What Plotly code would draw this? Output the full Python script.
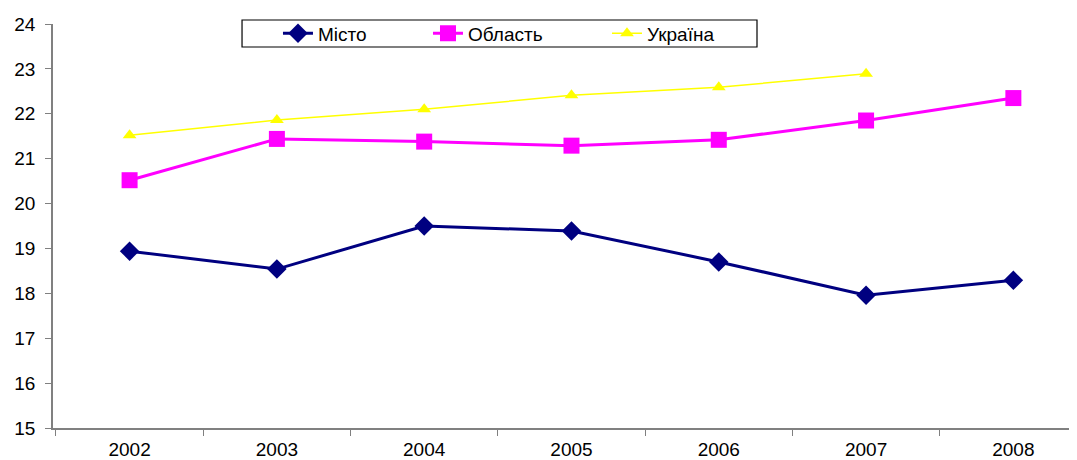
import plotly.graph_objects as go

years = ["2002", "2003", "2004", "2005", "2006", "2007", "2008"]
misto = [18.94, 18.54, 19.50, 19.39, 18.70, 17.96, 18.29]
oblast = [20.52, 21.44, 21.38, 21.29, 21.42, 21.85, 22.35]
ukraina = [21.52, 21.86, 22.10, 22.41, 22.59, 22.89, None]

fig = go.Figure()
fig.add_trace(go.Scatter(x=years, y=misto, name="Місто", mode="lines+markers",
                         line=dict(color="#000080", width=3),
                         marker=dict(symbol="diamond", size=15, color="#000080"),
                         legend="legend"))
fig.add_trace(go.Scatter(x=years, y=oblast, name="Область", mode="lines+markers",
                         line=dict(color="#FF00FF", width=3),
                         marker=dict(symbol="square", size=16, color="#FF00FF"),
                         legend="legend2"))
fig.add_trace(go.Scatter(x=years, y=ukraina, name="Україна", mode="lines+markers",
                         line=dict(color="#FFFF00", width=1.5),
                         marker=dict(symbol="triangle-up", size=12, color="#FFFF00"),
                         legend="legend3"))

leg_common = dict(orientation="h", y=0.9765, xanchor="left", yanchor="middle",
                  borderwidth=0, bgcolor="rgba(0,0,0,0)", font=dict(size=19))

fig.update_layout(
    width=1069, height=452,
    margin=dict(l=45, r=0, t=16, b=32, autoexpand=False),
    paper_bgcolor="white", plot_bgcolor="white",
    font=dict(family="Liberation Sans, Arial, sans-serif", size=19, color="black"),
    showlegend=True,
    legend=dict(x=0.2197, **leg_common),
    legend2=dict(x=0.3662, **leg_common),
    legend3=dict(x=0.5410, **leg_common),
    shapes=[dict(type="rect", xref="paper", yref="paper",
                 x0=0.1846, x1=0.6875, y0=0.9431, y1=1.0099,
                 line=dict(color="black", width=1.2), fillcolor="white",
                 layer="below")],
    xaxis=dict(type="category", range=[-0.52, 6.432], showgrid=False, automargin=False,
               showline=True, linecolor="#808080", linewidth=1.5,
               ticks="outside", tickson="boundaries", ticklen=6, tickcolor="#808080",
               ticklabelstandoff=3, tickfont=dict(size=19)),
    yaxis=dict(range=[15, 24], dtick=1, showgrid=False, zeroline=False, automargin=False,
               showline=True, linecolor="#808080", linewidth=1.5,
               ticks="outside", ticklen=6, tickcolor="#808080",
               ticklabelstandoff=6, tickfont=dict(size=19)),
)
fig.write_html("out.html")
